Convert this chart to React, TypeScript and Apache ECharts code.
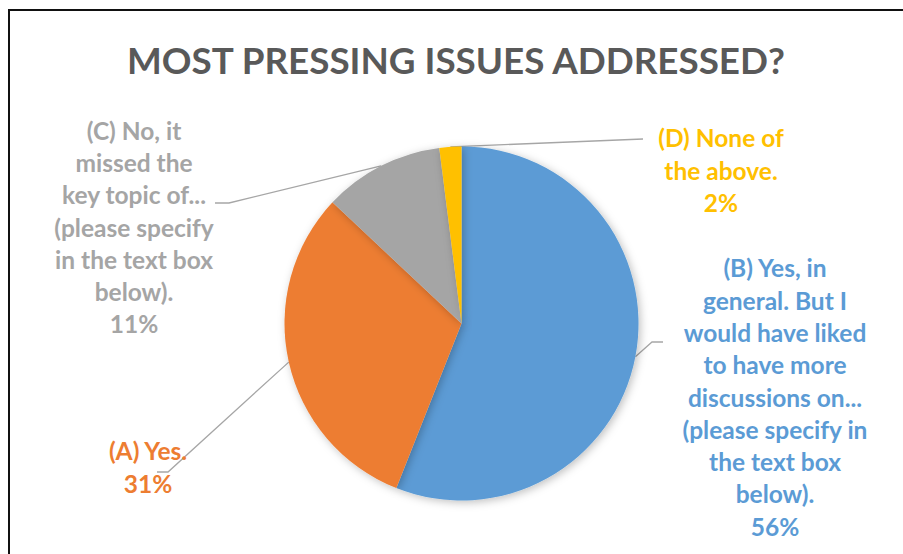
import React, { useEffect, useRef } from "react";
import * as echarts from "echarts";

const titleText = "MOST PRESSING ISSUES ADDRESSED?";
const categories = [
  "(B) Yes, in general. But I would have liked to have more discussions on... (please specify in the text box below).",
  "(A) Yes.",
  "(C) No, it missed the key topic of... (please specify in the text box below).",
  "(D) None of the above.",
];
const wrappedLabels = [
  "(B) Yes, in\ngeneral. But I\nwould have liked\nto have more\ndiscussions on...\n(please specify in\nthe text box\nbelow).",
  "(A) Yes.",
  "(C) No, it\nmissed the\nkey topic of...\n(please specify\nin the text box\nbelow).",
  "(D) None of\nthe above.",
];
const values = [56, 31, 11, 2];
const colors = ["#5B9BD5", "#ED7D31", "#A5A5A5", "#FFC000"];

const FONT = "Lato, 'Open Sans', sans-serif";
const CX = 461.5;
const CY = 323.5;
const R = 177;

// label block placement (text centre) and leader line elbow/end
const labelPlacement = [
  { x: 775, y: 397, elbow: [652, 342], end: [663, 342] },
  { x: 148, y: 467, elbow: [168, 472], end: [157, 472] },
  { x: 134, y: 227, elbow: [229, 203], end: [215, 203] },
  { x: 721, y: 170, elbow: [643, 139], end: [643, 139] },
];

export default function App() {
  const ref = useRef<HTMLDivElement>(null);
  useEffect(() => {
    if (!ref.current) return;
    const chart = echarts.init(ref.current, undefined, { renderer: "svg" });
    const total = values.reduce((a, b) => a + b, 0);
    let acc = 0;
    const mids = values.map((v) => {
      const m = ((acc + v / 2) / total) * Math.PI * 2;
      acc += v;
      return m;
    });
    chart.setOption({
      animation: false,
      backgroundColor: "#ffffff",
      title: {
        text: titleText,
        left: 451,
        top: 36,
        textAlign: "center",
        textStyle: {
          fontFamily: FONT,
          fontWeight: "bold",
          fontSize: 36.8,
          color: "#595959",
        },
      },
      graphic: [
        {
          type: "polyline",
          shape: { points: [[9, 554], [9, 10], [903, 10]] },
          style: { stroke: "#111111", lineWidth: 2, fill: null },
          silent: true,
        },
      ],
      series: [
        {
          type: "pie",
          center: [CX, CY],
          radius: R,
          startAngle: 90,
          clockwise: true,
          avoidLabelOverlap: false,
          itemStyle: {
            borderWidth: 0,
            shadowBlur: 8,
            shadowOffsetX: 2,
            shadowOffsetY: 2,
            shadowColor: "rgba(0,0,0,0.25)",
          },
          emphasis: { disabled: true },
          data: categories.map((name, i) => ({
            name,
            value: values[i],
            itemStyle: { color: colors[i] },
            label: { color: colors[i] },
          })),
          label: {
            show: true,
            position: "outside",
            fontFamily: FONT,
            fontWeight: "bold",
            fontSize: 24.5,
            lineHeight: 32.3,
            align: "center",
            formatter: (p: any) => `${wrappedLabels[p.dataIndex]}\n${p.value}%`,
          },
          labelLine: {
            show: true,
            length: 20,
            length2: 10,
            lineStyle: { color: "#A6A6A6", width: 1.3 },
          },
          labelLayout: (params: any) => {
            const i = params.dataIndex;
            const pl = labelPlacement[i];
            const a = mids[i];
            const start = [CX + R * Math.sin(a), CY - R * Math.cos(a)];
            return {
              x: pl.x,
              y: pl.y,
              align: "center",
              verticalAlign: "middle",
              labelLinePoints: [start, pl.elbow, pl.end],
            };
          },
        },
      ],
    });
    return () => chart.dispose();
  }, []);
  return (
    <div
      ref={ref}
      style={{ position: "fixed", left: 0, top: 0, width: 903, height: 554 }}
    />
  );
}
